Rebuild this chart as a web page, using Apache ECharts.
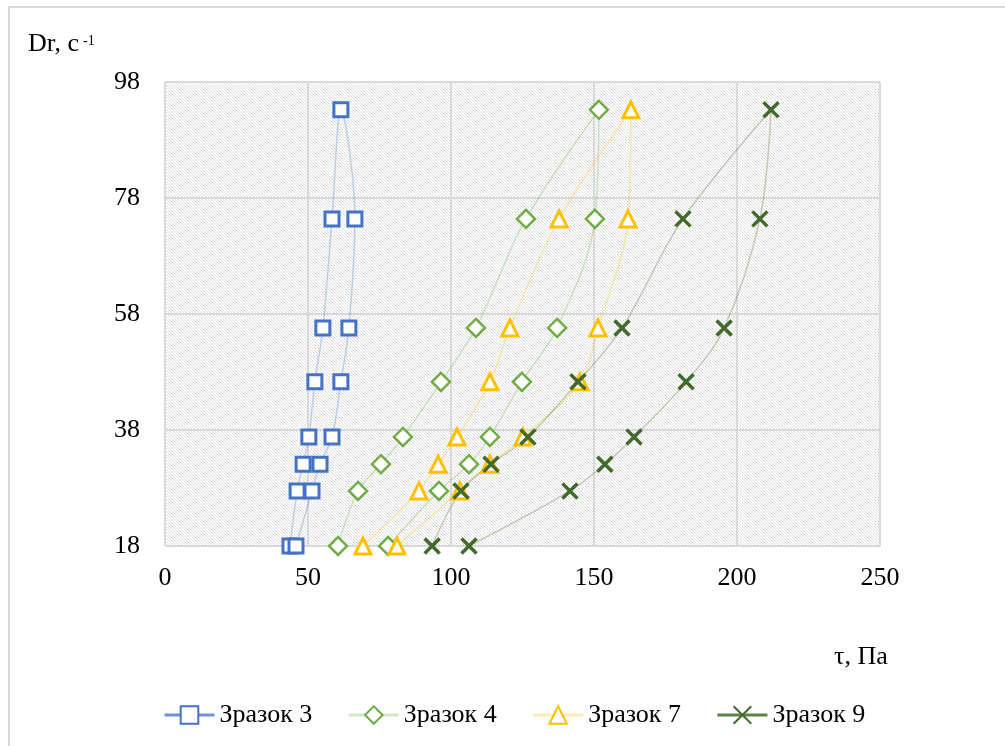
<!DOCTYPE html>
<html>
<head>
<meta charset="utf-8">
<script src="https://cdn.jsdelivr.net/npm/echarts@6/dist/echarts.min.js"></script>
<style>
  html, body { margin: 0; padding: 0; background: #fff; }
  #chart { width: 1005px; height: 746px; }
</style>
</head>
<body>
<div id="chart"></div>
<script>
// shear rate Dr, c-1 (same for every sample: up branch, then down branch)
const shearRate = [18, 27.5, 32.1, 36.8, 46.3, 55.6, 74.4, 93.2, 74.4, 55.6, 46.3, 36.8, 32.1, 27.5, 18];
// shear stress tau, Pa
const sample3 = [43.7, 46.2, 48.3, 50.3, 52.4, 55.2, 58.4, 61.5, 66.4, 64.3, 61.5, 58.4, 54.2, 51.4, 45.8];
const sample4 = [60.5, 67.5, 75.5, 83.2, 96.5, 108.7, 126.2, 151.7, 150.3, 137.1, 124.8, 113.6, 106.3, 95.8, 78.0];
const sample7 = [69.2, 88.8, 95.5, 102.1, 113.6, 120.6, 137.8, 162.9, 161.9, 151.4, 145.1, 125.2, 113.6, 103.1, 81.1];
const sample9 = [93.4, 103.5, 114.0, 126.9, 144.4, 159.8, 181.1, 211.9, 208.0, 195.5, 182.2, 164.0, 153.8, 141.6, 106.3];
const names = ['Зразок 3', 'Зразок 4', 'Зразок 7', 'Зразок 9'];

const font = 'Liberation Serif';

// hatched background of the plot area
const pat = document.createElement('canvas');
pat.width = 6; pat.height = 6;
const pc = pat.getContext('2d');
pc.fillStyle = '#ffffff';
pc.fillRect(0, 0, 6, 6);
pc.fillStyle = '#dcdcdc';
for (let i = 0; i < 6; i++) {
	pc.fillRect(i, i, 1, 1);
	pc.fillRect(i, (i + 3) % 6, 1, 1);
}

function pairs(xs) {
	return xs.map((x, i) => [x, shearRate[i]]);
}

function makeSeries(name, xs, color, symbol, size, bw, lineColor) {
	return {
		name: name,
		type: 'line',
		smooth: 0.35,
		data: pairs(xs),
		symbol: symbol,
		symbolSize: size,
		showAllSymbol: true,
		itemStyle: {
			color: symbol.indexOf('path://') === 0 ? color : '#ffffff',
			borderColor: color,
			borderWidth: bw
		},
		lineStyle: {
			color: lineColor,
			width: 1.5
		},
		emphasis: { disabled: true }
	};
}

let myChart = echarts.init(document.getElementById('chart'));
myChart.setOption({
	animation: false,
	backgroundColor: '#ffffff',
	grid: {
		left: 165,
		right: 125,
		top: 82,
		bottom: 200,
		show: true,
		borderWidth: 0,
		backgroundColor: { image: pat, repeat: 'repeat' }
	},
	legend: {
		left: 158,
		top: 697,
		itemWidth: 50,
		itemHeight: 22,
		itemGap: 35,
		textStyle: {
			fontFamily: font,
			fontSize: 26,
			color: '#000'
		},
		data: [
			{ name: names[0], lineStyle: { color: '#6f93d3', width: 3 } },
			{ name: names[1], lineStyle: { color: '#d5e8c8', width: 3 } },
			{ name: names[2], lineStyle: { color: '#fdebb3', width: 3 } },
			{ name: names[3], lineStyle: { color: '#5d8046', width: 3 } }
		]
	},
	xAxis: {
		type: 'value',
		min: 0,
		max: 250,
		interval: 50,
		axisLine: { show: false },
		axisTick: { show: false },
		axisLabel: {
			margin: 19,
			fontFamily: font,
			fontSize: 26,
			color: '#000'
		},
		splitLine: {
			show: true,
			lineStyle: { color: '#d9d9d9', width: 2 }
		}
	},
	yAxis: {
		type: 'value',
		min: 18,
		max: 98,
		interval: 20,
		axisLine: { show: false },
		axisTick: { show: false },
		axisLabel: {
			margin: 25,
			fontFamily: font,
			fontSize: 26,
			color: '#000'
		},
		splitLine: {
			show: true,
			lineStyle: { color: '#d9d9d9', width: 2 }
		}
	},
	graphic: [
		{
			type: 'rect',
			silent: true,
			shape: { x: 9, y: 7, width: 1100, height: 800 },
			style: { fill: 'none', stroke: '#d9d9d9', lineWidth: 2 }
		},
		{
			type: 'text',
			silent: true,
			style: { x: 28, y: 44, text: 'Dr, c', font: '26px "Liberation Serif"', fill: '#000', verticalAlign: 'middle' }
		},
		{
			type: 'text',
			silent: true,
			style: { x: 83, y: 41, text: '-1', font: '14px "Liberation Serif"', fill: '#000', verticalAlign: 'middle' }
		},
		{
			type: 'text',
			silent: true,
			style: { x: 834, y: 657, text: 'τ, Па', font: '26px "Liberation Serif"', fill: '#000', verticalAlign: 'middle' }
		}
	],
	series: [
		makeSeries(names[0], sample3, '#4472c4', 'rect', 14, 3, 'rgba(68,114,196,0.3)'),
		makeSeries(names[1], sample4, '#70ad47', 'diamond', 18, 2.5, 'rgba(112,173,71,0.3)'),
		makeSeries(names[2], sample7, '#ffc000', 'triangle', 16, 3, 'rgba(255,192,0,0.3)'),
		makeSeries(names[3], sample9, '#43692c', 'path://M0,0L10,10M10,0L0,10', 15, 3.5, 'rgba(67,105,44,0.3)')
	]
});
</script>
</body>
</html>
